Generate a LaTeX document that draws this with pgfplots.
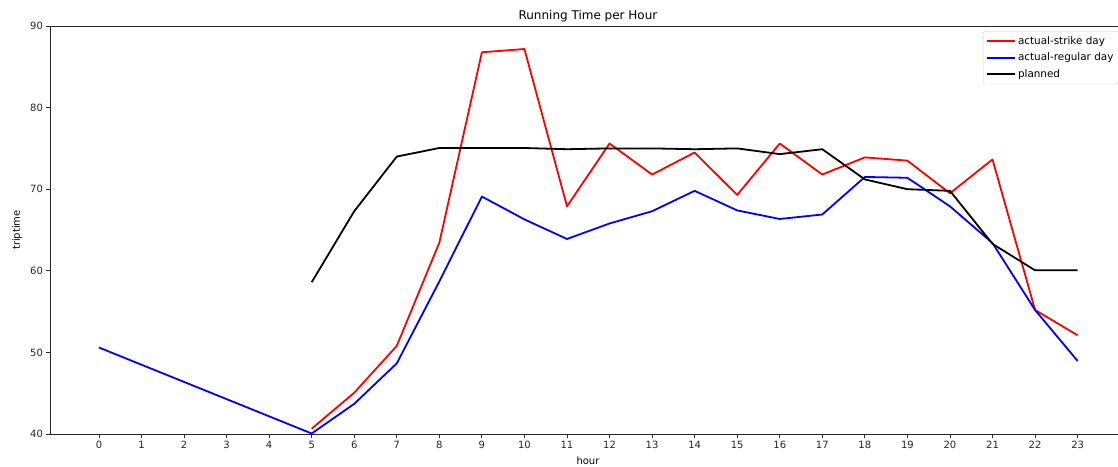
\documentclass[border=0pt]{standalone}
\usepackage{fontspec}
\setmainfont{DejaVu Sans}
\usepackage{pgfplots}
\pgfplotsset{compat=1.18}
\begin{document}
\fontsize{10pt}{12pt}\selectfont
\begin{tikzpicture}
\begin{axis}[name=ax, scale only axis, width=1068pt, height=408pt,
  xmin=-1.15, xmax=23.95, ymin=40, ymax=90,
  axis x line=box, axis y line=left,
  axis line style={-, line width=0.8pt, black!85},
  xtick={0,...,23}, ytick={40,50,...,90},
  xtick pos=left, ytick pos=left,
  tick align=outside, major tick length=3.5pt,
  tick style={line width=0.8pt, black!85},
  /pgf/number format/assume math mode=true,
  tick label style={font=\fontsize{10pt}{12pt}\selectfont, text=black!85},
  xlabel={hour}, ylabel={triptime}, title={Running Time per Hour},
  xlabel style={at={(axis description cs:0.5037,-0.0662)}, anchor=center, font=\fontsize{10pt}{12pt}\selectfont},
  ylabel style={at={(axis description cs:-0.0309,0.5)}, anchor=center, font=\fontsize{10pt}{12pt}\selectfont},
  title style={at={(axis description cs:0.5037,1.0098)}, anchor=center, font=\fontsize{12pt}{14pt}\selectfont},
  legend style={at={(axis description cs:0.8736,0.9877)}, anchor=north west,
    draw=black!20, rounded corners=2pt, fill=white, fill opacity=0.8, text opacity=1, draw opacity=1,
    font=\fontsize{10.4pt}{12pt}\selectfont, inner sep=3pt, row sep=3.3pt},
  legend cell align=left,
  legend image code/.code={\draw[#1] (0pt,0pt) -- (23pt,0pt); \path (23pt,0pt) -- (28pt,0pt);},
  every axis plot/.append style={line width=1.8pt, line join=round},
]
\addplot[red] table {
x y
5 40.65
6 45.06
7 50.8
8 63.45
9 86.78
10 87.18
11 67.9
12 75.6
13 71.8
14 74.5
15 69.3
16 75.6
17 71.8
18 73.9
19 73.5
20 69.5
21 73.65
22 55.2
23 52.1
};
\addlegendentry{actual-strike day}
\addplot[blue] table {
x y
0 50.6
5 40.06
6 43.7
7 48.66
8 58.7
9 69.1
10 66.3
11 63.9
12 65.8
13 67.3
14 69.8
15 67.4
16 66.35
17 66.9
18 71.5
19 71.4
20 67.9
21 63.4
22 55.2
23 48.95
};
\addlegendentry{actual-regular day}
\addplot[black] table {
x y
5 58.6
6 67.3
7 74.0
8 75.05
9 75.05
10 75.05
11 74.9
12 75.0
13 75.0
14 74.9
15 75.0
16 74.3
17 74.9
18 71.2
19 70.0
20 69.8
21 63.3
22 60.06
23 60.06
};
\addlegendentry{planned}
\end{axis}
\pgfresetboundingbox
\path[use as bounding box] (ax.south west) ++(-50pt,-32pt) rectangle ++(1118pt,466pt);
\end{tikzpicture}
\end{document}
